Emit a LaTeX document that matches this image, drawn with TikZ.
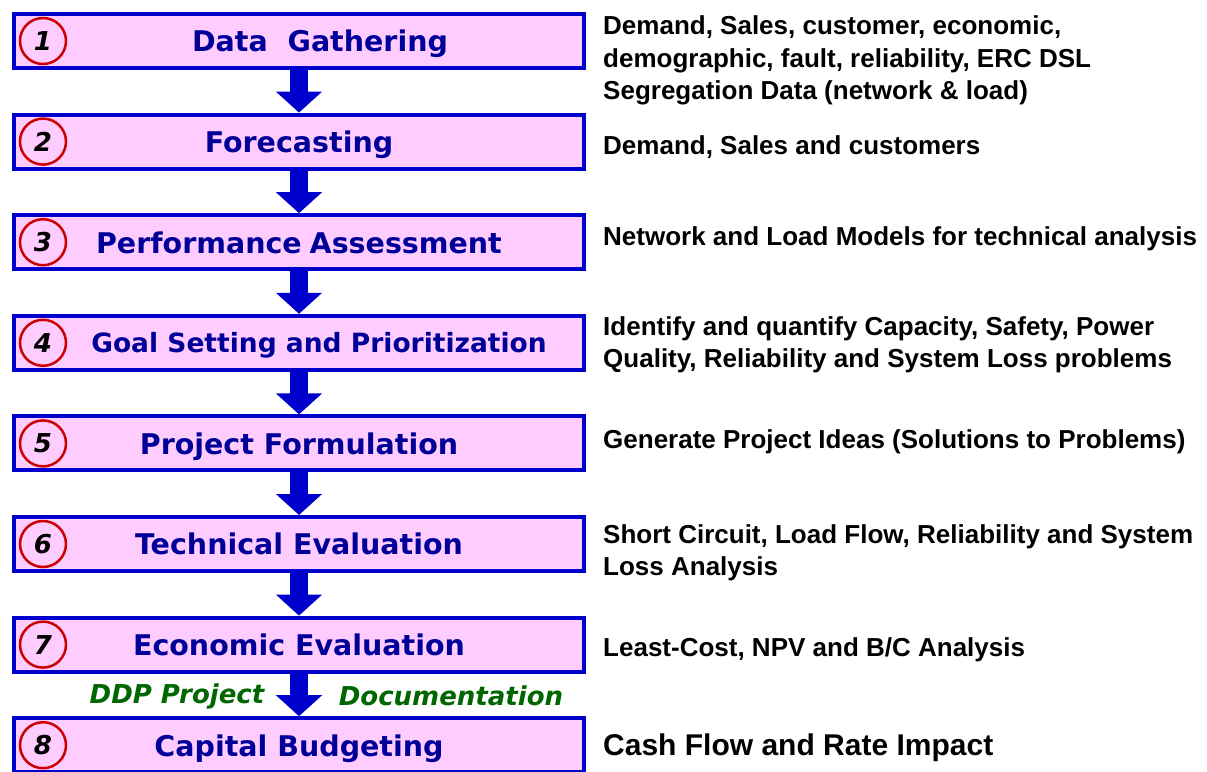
\documentclass[tikz,border=0pt]{standalone}
\usepackage{fontspec}
\newfontfamily\verdfont{DejaVu Sans}
\newfontfamily\arialfont{Liberation Sans}
\usepackage{tikz}
\usetikzlibrary{arrows.meta,positioning,backgrounds}
\definecolor{boxblue}{HTML}{0000CC}
\definecolor{titleblue}{HTML}{000099}
\definecolor{boxpink}{HTML}{FFCCFF}
\definecolor{ringred}{HTML}{CC0000}
\definecolor{notegreen}{HTML}{006600}

\begin{document}
\begin{tikzpicture}[
    x=1pt, y=-1pt,
    node distance=42.6pt and 17pt,
    stagebox/.style={draw=boxblue, fill=boxpink, line width=4pt, minimum width=570pt,
                minimum height=54pt, inner sep=0pt, text depth=0pt, text=titleblue,
                font=\verdfont\bfseries\fontsize{28.5}{30}\selectfont},
    ring/.style={circle, draw=ringred, line width=2.5pt, minimum size=46pt, inner sep=0pt,
                font=\verdfont\bfseries\itshape\fontsize{26}{26}\selectfont},
    flow/.style={boxblue, line width=18pt, -{Triangle[width=45pt,length=21pt]}},
    note/.style={inner sep=0pt, align=left, font=\arialfont\bfseries\fontsize{26}{32.5}\selectfont},
    doclbl/.style={inner sep=0pt, text=notegreen, font=\verdfont\bfseries\itshape\fontsize{26}{26}\selectfont}
]
\useasboundingbox (0,0) rectangle (1207,771);

% planning stages
\node[stagebox] (gather) at (299,41) {\hspace*{42pt}Data\ \ Gathering};
\node[stagebox, below=of gather] (forecast) {Forecasting};
\node[stagebox, below=of forecast] (perform) {Performance\hspace{-2pt} Assessment};
\node[stagebox, below=of perform, font=\verdfont\bfseries\fontsize{26.5}{28}\selectfont] (goal)
  {\hspace*{40pt}Goal Setting and Prioritization};
\node[stagebox, below=of goal] (formul) {Project Formulation};
\node[stagebox, below=of formul] (techeval) {Technical Evaluation};
\node[stagebox, below=of techeval] (econeval) {Economic Evaluation};
\node[stagebox, below=of econeval] (budget) {Capital Budgeting};

% step numbers
\node[ring] (n1) at ([xshift=31pt]gather.west) {1};
\node[ring] (n2) at ([xshift=31pt]forecast.west) {2};
\node[ring] (n3) at ([xshift=31pt]perform.west) {3};
\node[ring] (n4) at ([xshift=31pt]goal.west) {4};
\node[ring] (n5) at ([xshift=31pt]formul.west) {5};
\node[ring] (n6) at ([xshift=31pt]techeval.west) {6};
\node[ring] (n7) at ([xshift=31pt]econeval.west) {7};
\node[ring] (n8) at ([xshift=31pt]budget.west) {8};

% block arrows behind the boxes
\begin{scope}[on background layer]
\draw[flow] (gather.south) -- (forecast.north);
\draw[flow] (forecast.south) -- (perform.north);
\draw[flow] (perform.south) -- (goal.north);
\draw[flow] (goal.south) -- (formul.north);
\draw[flow] (formul.south) -- (techeval.north);
\draw[flow] (techeval.south) -- (econeval.north);
\draw[flow] (econeval.south) -- (budget.north);
\end{scope}

\node[doclbl] (ddp) at (177,696) {DDP Project};
\node[doclbl] (docu) at (451,696) {Documentation};

% what goes into each stage
\node[note, right=of gather, yshift=-19.5pt] (gatherinfo)
  {Demand, Sales, customer, economic,\\demographic, fault, reliability, ERC DSL\\Segregation Data (network \& load)};
\node[note, right=of forecast, yshift=-5pt] (forecastinfo) {Demand, Sales and customers};
\node[note, right=of perform, yshift=3pt] (performinfo) {Network and Load Models for technical analysis};
\node[note, right=of goal, yshift=-2pt] (goalinfo)
  {Identify and quantify Capacity, Safety, Power\\Quality, Reliability and System Loss problems};
\node[note, right=of formul, yshift=2pt] (formulinfo) {Generate Project Ideas (Solutions to Problems)};
\node[note, right=of techeval, yshift=-9pt] (techinfo)
  {Short Circuit, Load Flow, Reliability and System\\Loss Analysis};
\node[note, right=of econeval, yshift=-5pt] (econinfo) {Least-Cost, NPV and B/C Analysis};
\node[note, right=of budget, yshift=-3pt, font=\arialfont\bfseries\fontsize{30}{32}\selectfont] (budgetinfo)
  {Cash Flow and Rate Impact};

\end{tikzpicture}
\end{document}
